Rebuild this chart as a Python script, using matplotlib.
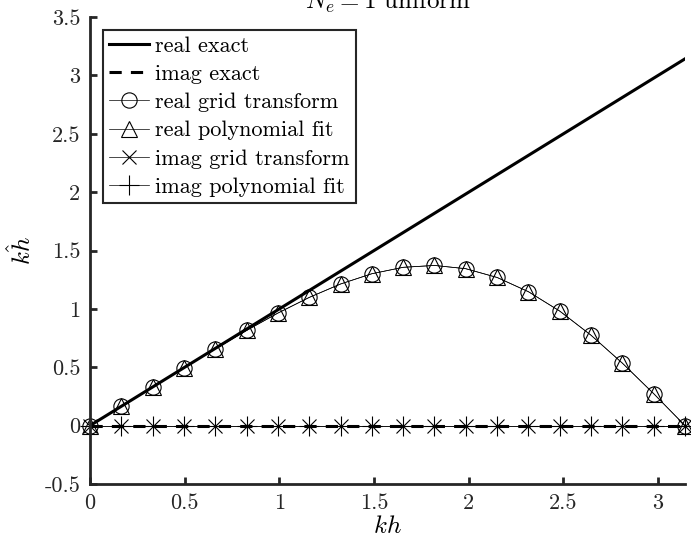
import numpy as np
import matplotlib
matplotlib.use("Agg")
import matplotlib.pyplot as plt

plt.rcParams['font.family'] = 'serif'
plt.rcParams['font.serif'] = ['cmr10', 'DejaVu Serif']
plt.rcParams['mathtext.fontset'] = 'cm'
plt.rcParams['axes.unicode_minus'] = False

# data
kh_pts = [0.0, 0.1653, 0.3307, 0.4960, 0.6614, 0.8267, 0.9921, 1.1574, 1.3228, 1.4881,
          1.6535, 1.8188, 1.9842, 2.1495, 2.3149, 2.4802, 2.6456, 2.8109, 2.9762, 3.1416]
real_grid = [0.0, 0.165, 0.331, 0.495, 0.657, 0.815, 0.964, 1.098, 1.213, 1.301,
             1.356, 1.372, 1.344, 1.269, 1.147, 0.981, 0.774, 0.535, 0.274, 0.0]
real_poly = [0.0, 0.165, 0.331, 0.495, 0.657, 0.815, 0.964, 1.098, 1.213, 1.301,
             1.356, 1.372, 1.344, 1.269, 1.147, 0.981, 0.774, 0.535, 0.274, 0.0]
imag_grid = [0.0] * 20
imag_poly = [0.0] * 20
exact_x = [0.0, 3.1416]
exact_real = [0.0, 3.1416]
exact_imag = [0.0, 0.0]

xticks = [0, 0.5, 1, 1.5, 2, 2.5, 3]
xticklabels = ['0', '0.5', '1', '1.5', '2', '2.5', '3']
yticks = [-0.5, 0, 0.5, 1, 1.5, 2, 2.5, 3, 3.5]
yticklabels = ['-0.5', '0', '0.5', '1', '1.5', '2', '2.5', '3', '3.5']

W, H = 691, 548
fig = plt.figure(figsize=(W / 100, H / 100), dpi=100)
L, R, T, B = 90, 685, 17, 484
ax = fig.add_axes([L / W, 1 - B / H, (R - L) / W, (B - T) / H])

axc = '#262626'
ax.plot(exact_x, exact_real, color='k', lw=2.2, label='real exact')
ax.plot(exact_x, exact_imag, color='k', lw=2.2, ls=(0, (4, 3)), label='imag exact')
ax.plot(kh_pts, real_grid, color='k', lw=0.5, marker='o', ms=11, mfc='none', mew=0.8,
        label='real grid transform', clip_on=False)
ax.plot(kh_pts, real_poly, color='k', lw=0.5, marker='^', ms=12, mfc='none', mew=0.8,
        label='real polynomial fit', clip_on=False)
ax.plot(kh_pts, imag_grid, color='k', lw=0.5, marker='x', ms=10, mew=0.8,
        label='imag grid transform', clip_on=False)
ax.plot(kh_pts, imag_poly, color='k', lw=0.5, marker='+', ms=14, mew=0.8,
        label='imag polynomial fit', clip_on=False)

ax.set_xlim(0, np.pi)
ax.set_ylim(-0.5, 3.5)
ax.set_xticks(xticks)
ax.set_xticklabels(xticklabels)
ax.set_yticks(yticks)
ax.set_yticklabels(yticklabels)

for s in ['top', 'right']:
    ax.spines[s].set_visible(False)
for s in ['left', 'bottom']:
    ax.spines[s].set_color(axc)
    ax.spines[s].set_linewidth(2.0)
ax.tick_params(direction='in', length=5, width=2.0, color=axc, labelsize=16,
               labelcolor='#262626', pad=7)

ax.set_xlabel('$kh$', fontsize=18, labelpad=2)
ax.set_ylabel(r'$\hat{kh}$', fontsize=18, labelpad=6)
ax.set_title('$N_e = 1$ uniform', fontsize=18, pad=6)

leg = ax.legend(loc='upper left', bbox_to_anchor=((103 - L) / (R - L), (B - 30) / (B - T)),
                borderaxespad=0, fontsize=16, frameon=True, fancybox=False,
                framealpha=1, edgecolor=axc, handlelength=1.8, handletextpad=0.25,
                labelspacing=0.39, borderpad=0.28)
leg.get_frame().set_linewidth(1.5)

fig.savefig('out.png', dpi=100)
